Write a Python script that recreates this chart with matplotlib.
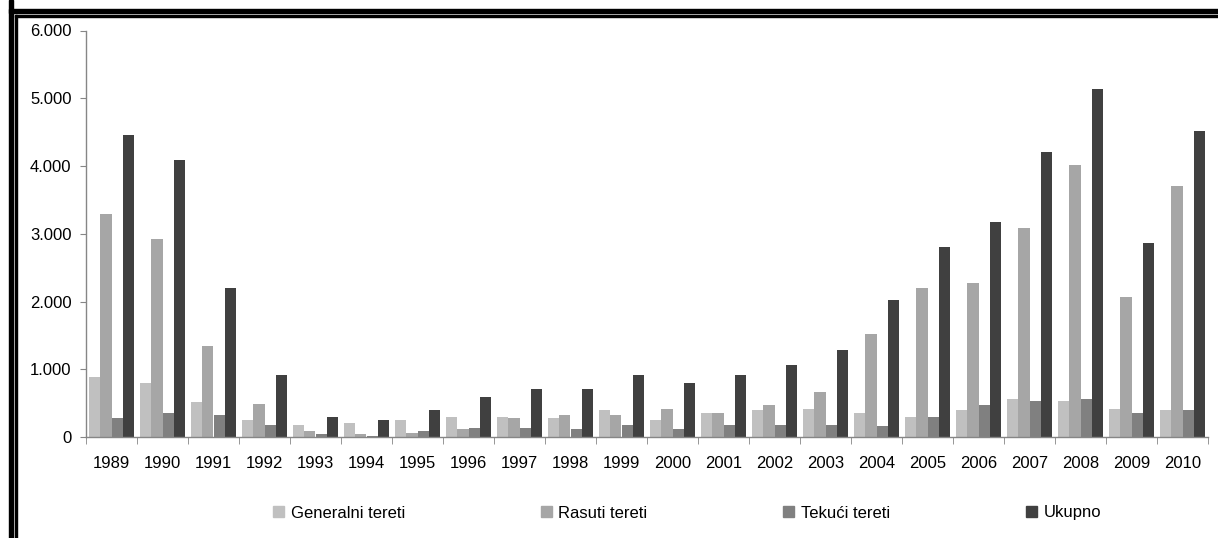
import matplotlib.pyplot as plt
from matplotlib.patches import Rectangle
from matplotlib.ticker import FuncFormatter, MultipleLocator
import numpy as np

# podaci (tisuce tona), ocitano sa slike
godine = ['1989', '1990', '1991', '1992', '1993', '1994', '1995', '1996', '1997', '1998', '1999',
          '2000', '2001', '2002', '2003', '2004', '2005', '2006', '2007', '2008', '2009', '2010']
generalni = [880, 800, 520, 255, 180, 210, 255, 300, 300, 285, 400,
             255, 360, 400, 418, 360, 300, 400, 565, 535, 418, 400]
rasuti = [3295, 2925, 1347, 490, 92, 48, 62, 120, 285, 330, 330,
          418, 360, 475, 668, 1523, 2200, 2272, 3087, 4016, 2070, 3700]
tekuci = [285, 360, 330, 180, 48, 18, 92, 135, 135, 120, 180,
          120, 180, 180, 180, 165, 300, 475, 535, 565, 360, 400]
ukupno = [4460, 4090, 2200, 920, 300, 255, 400, 595, 713, 713, 920,
          800, 920, 1065, 1288, 2025, 2810, 3180, 4208, 5137, 2860, 4520]

nazivi = ['Generalni tereti', 'Rasuti tereti', 'Tekući tereti', 'Ukupno']
boje = ['#C0C0C0', '#A6A6A6', '#808080', '#404040']
serije = [generalni, rasuti, tekuci, ukupno]

plt.rcParams['font.family'] = ['Liberation Sans', 'DejaVu Sans']
siva = '#868686'
fs = 12

fig = plt.figure(figsize=(12.18, 5.38), dpi=100)
ax = fig.add_axes([86 / 1218, 1 - 437 / 538, (1208 - 86) / 1218, (437 - 30.5) / 538])

x = np.arange(len(godine))
w = 0.225
for i, (s, c) in enumerate(zip(serije, boje)):
    ax.bar(x + (i - 1.5) * w, s, width=w, color=c, label=nazivi[i], linewidth=0, zorder=2)

ax.set_xlim(-0.5, len(godine) - 0.5)
ax.set_ylim(0, 6000)
ax.yaxis.set_major_locator(MultipleLocator(1000))
ax.yaxis.set_major_formatter(FuncFormatter(lambda v, p: '0' if v == 0 else f'{int(v) // 1000}.000'))

ax.set_xticks(x)
ax.set_xticklabels(godine, fontsize=fs)
ax.set_xticks(np.arange(-0.5, len(godine)), minor=True)
ax.tick_params(axis='x', which='major', length=0, pad=13.5)
ax.tick_params(axis='x', which='minor', length=5, color=siva, direction='out')
ax.tick_params(axis='y', length=4, color=siva, labelsize=fs, pad=6.5)

for sp in ['top', 'right']:
    ax.spines[sp].set_visible(False)
for sp in ['left', 'bottom']:
    ax.spines[sp].set_color(siva)
    ax.spines[sp].set_linewidth(1.0)

# legenda ispod osi
rucke = [Rectangle((0, 0), 1, 1, color=c) for c in boje]
fig.legend(rucke, nazivi, ncol=4, loc='center left', bbox_to_anchor=(273 / 1218, 1 - 513 / 538),
           frameon=False, handlelength=0.66, handleheight=0.66, handletextpad=0.4,
           columnspacing=8.15, borderaxespad=0, borderpad=0, fontsize=fs)

# dvostruki okvir lijevo i gore
px = lambda v: v / 1218
py = lambda v: 1 - v / 538
fig.patches.append(Rectangle((px(9), 0), px(4), 1, transform=fig.transFigure, color='black', zorder=10))
fig.patches.append(Rectangle((px(15), 0), px(2), py(15), transform=fig.transFigure, color='black', zorder=10))
fig.patches.append(Rectangle((px(9), py(13)), 1, 4 / 538, transform=fig.transFigure, color='black', zorder=10))
fig.patches.append(Rectangle((px(15), py(17)), 1, 2 / 538, transform=fig.transFigure, color='black', zorder=10))

fig.savefig('out.png', dpi=100)
